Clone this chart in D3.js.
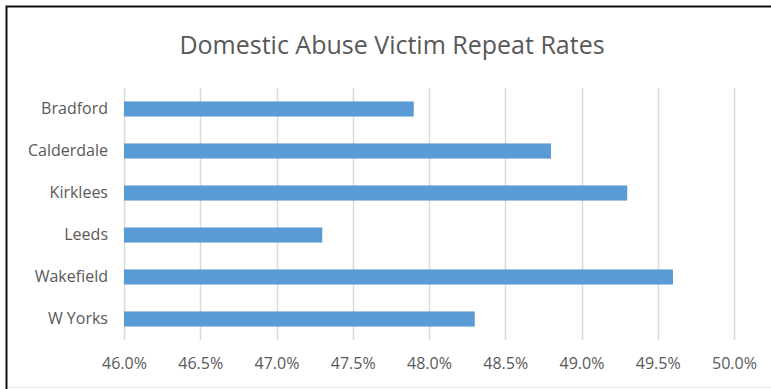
<!DOCTYPE html>
<html>
<head>
<meta charset="utf-8">
<script src="https://cdn.jsdelivr.net/npm/d3@7"></script>
<style>
  body { margin: 0; background: #fff; }
  text { font-family: "Open Sans", sans-serif; fill: #595959; }
</style>
</head>
<body>
<div id="canvas"></div>
<script>
const categories = ["Bradford", "Calderdale", "Kirklees", "Leeds", "Wakefield", "W Yorks"];
const repeatRates = [47.9, 48.8, 49.3, 47.3, 49.6, 48.3];
const xTicks = [46.0, 46.5, 47.0, 47.5, 48.0, 48.5, 49.0, 49.5, 50.0];
const title = "Domestic Abuse Victim Repeat Rates";

const width = 771;
const height = 389;
const margin = { top: 88, left: 124, bottom: 49, right: 37 };

const svg = d3.select("#canvas").append("svg")
  .attr("width", width)
  .attr("height", height);

// frame of the pasted chart (left and top edges show)
svg.append("rect")
  .attr("x", 6.5).attr("y", 6.5)
  .attr("width", width).attr("height", 400)
  .attr("fill", "#fff")
  .attr("stroke", "#111")
  .attr("stroke-width", 2);

svg.append("line")
  .attr("x1", 8).attr("x2", width)
  .attr("y1", 387.5).attr("y2", 387.5)
  .attr("stroke", "#e4e4e4");

svg.append("text")
  .attr("x", 392).attr("y", 54)
  .attr("text-anchor", "middle")
  .style("font-size", "25px")
  .text(title);

const g = svg.append("g")
  .attr("transform", `translate(${margin.left},${margin.top})`);

const x = d3.scaleLinear().domain([46, 50]).range([0, 610]);
const y = d3.scaleBand().domain(categories).range([0, 252]).paddingInner(0.64).paddingOuter(0.32);

// gridlines
g.selectAll("line.grid")
  .data(xTicks)
  .enter()
  .append("line")
  .attr("class", "grid")
  .attr("x1", (d) => Math.round(x(d)) + 0.5)
  .attr("x2", (d) => Math.round(x(d)) + 0.5)
  .attr("y1", 0)
  .attr("y2", 252)
  .attr("stroke", "#d9d9d9")
  .attr("stroke-width", 1.5);

g.selectAll("rect.bar")
  .data(repeatRates)
  .enter()
  .append("rect")
  .attr("class", "bar")
  .attr("x", x(46))
  .attr("y", (d, i) => y(categories[i]))
  .attr("width", (d) => x(d) - x(46))
  .attr("height", y.bandwidth())
  .style("fill", "#5b9bd5");

const xAxis = g.append("g")
  .attr("transform", `translate(0, 252)`)
  .call(d3.axisBottom(x).tickValues(xTicks).tickSize(0).tickPadding(18).tickFormat((d) => d.toFixed(1) + "%"));
xAxis.select(".domain").remove();
xAxis.selectAll("text").style("font-size", "16px").attr("fill", null);

const yAxis = g.append("g")
  .call(d3.axisLeft(y).tickSize(0).tickPadding(16));
yAxis.select(".domain").remove();
yAxis.selectAll("text").style("font-size", "16px").attr("fill", null);
</script>
</body>
</html>
